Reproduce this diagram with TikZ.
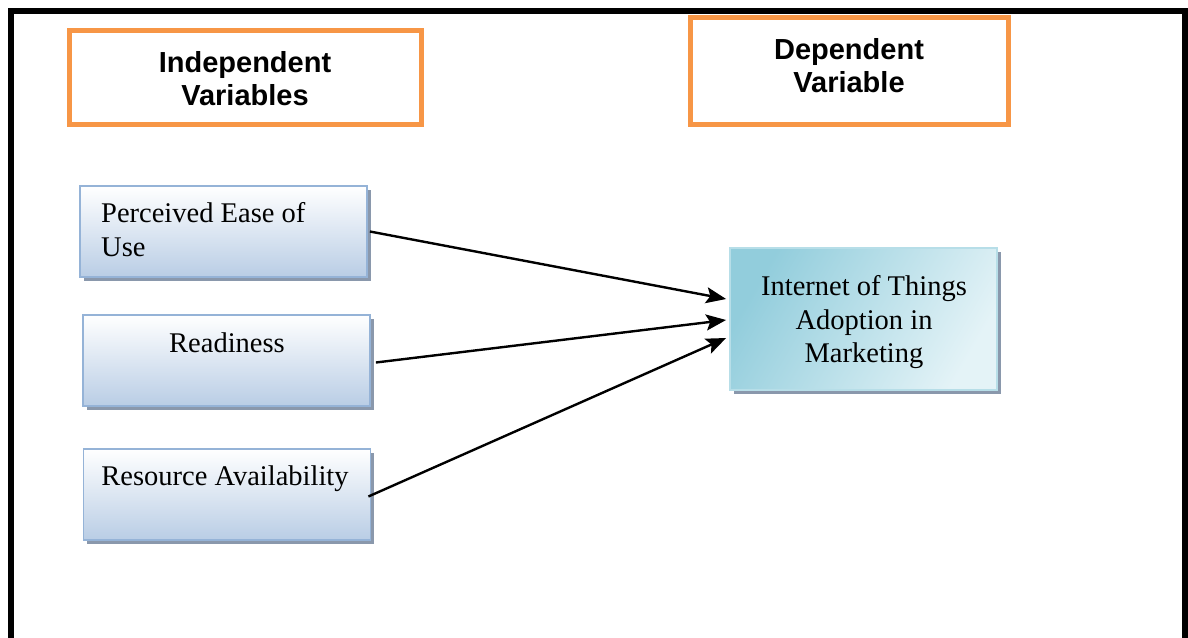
\documentclass[tikz,border=0pt]{standalone}
\usepackage{fontspec}
\setmainfont{Liberation Serif}
\newfontfamily\hdfont{Liberation Sans}
\usetikzlibrary{shadows,arrows.meta}
\definecolor{orangeb}{HTML}{F79646}
\definecolor{blueb}{HTML}{95B3D7}
\definecolor{bluefill}{HTML}{B9CDE5}
\definecolor{tealb}{HTML}{B7DEE8}
\definecolor{teal1}{HTML}{92CDDC}
\definecolor{teal2}{HTML}{E4F3F7}
\definecolor{shadowc}{HTML}{8A98AC}
\begin{document}
\begin{tikzpicture}[x=1pt,y=-1pt,
  headbox/.style={draw=orangeb, line width=5pt, fill=white, inner sep=0pt},
  headtext/.style={font=\hdfont\bfseries\fontsize{29}{33}\selectfont, align=center, inner sep=0pt},
  varbox/.style={draw=blueb, line width=1.8pt, top color=white, bottom color=bluefill, inner sep=0pt,
    minimum width=287pt, minimum height=91pt,
    drop shadow={shadow xshift=3.5pt, shadow yshift=-3.5pt, opacity=1, fill=shadowc}},
  depbox/.style={draw=tealb, line width=1.8pt, left color=teal1, right color=teal2, shading angle=60, inner sep=0pt,
    minimum width=267pt, minimum height=142pt,
    drop shadow={shadow xshift=3.5pt, shadow yshift=-3.5pt, opacity=1, fill=shadowc}},
  vartext/.style={font=\fontsize{28.5}{34}\selectfont, inner sep=0pt},
  arr/.style={-{Stealth[length=20pt,width=16pt,inset=4pt]}, line width=2.4pt}
]
\useasboundingbox (0,0) rectangle (1188,637);
\fill[white] (0,0) rectangle (1188,637);
\draw[line width=6pt] (11,640) -- (11,11) -- (1185,11) -- (1185,640);

% header boxes
\node[headbox, minimum width=352pt, minimum height=94pt] (ih) at (245,77) {};
\node[headtext] (iht) at (245,79) {Independent\\Variables};
\node[headbox, minimum width=318pt, minimum height=107pt] (dh) at (849,70.5) {};
\node[headtext] (dht) at (849,66) {Dependent\\Variable};

% variable boxes
\node[varbox] (pe) at (223.5,231.5) {};
\node[vartext, anchor=base west, align=left] (pet) at (101,222) {Perceived Ease of};
\node[vartext, anchor=base west] (pet2) at (101,256) {Use};
\node[varbox] (rd) at (226.5,360.5) {};
\node[vartext, anchor=base] (rdt) at (227,352) {Readiness};
\node[varbox] (ra) at (227,494.5) {};
\node[vartext, anchor=base] (rat) at (225,485) {Resource Availability};

\node[depbox] (iot) at (863.5,319) {};
\node[vartext, anchor=base] (io1) at (864,295) {Internet of Things};
\node[vartext, anchor=base] (io2) at (864,329) {Adoption in};
\node[vartext, anchor=base] (io3) at (864,362) {Marketing};

% connectors (yshift is in canvas direction: positive = up)
\coordinate (e1) at ([yshift=20pt]iot.west);
\coordinate (e2) at ([yshift=-1pt]iot.west);
\coordinate (e3) at ([yshift=-19pt]iot.west);
\draw[arr] ([xshift=2pt]pe.east) -- ([xshift=-3pt]e1);
\draw[arr] ([xshift=5pt,yshift=-2pt]rd.east) -- ([xshift=-3pt]e2);
\draw[arr] ([xshift=-3pt,yshift=-2pt]ra.east) -- ([xshift=-3pt]e3);
\end{tikzpicture}
\end{document}
